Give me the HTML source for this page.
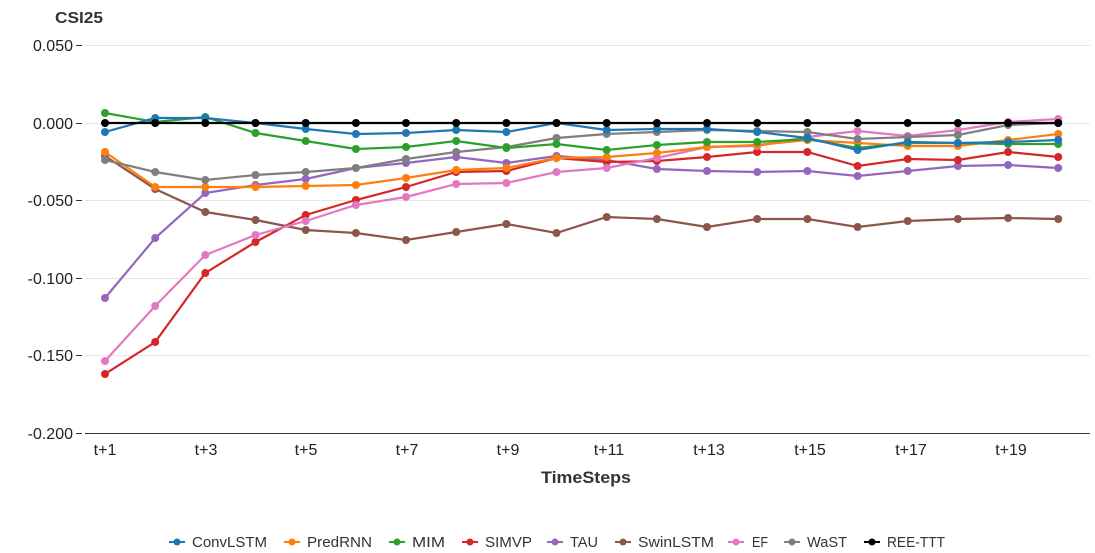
<!DOCTYPE html>
<html><head><meta charset="utf-8"><style>
html,body{margin:0;padding:0;background:#fff}
svg{display:block;font-family:"Liberation Sans",sans-serif}
</style></head><body>
<svg width="1095" height="553" viewBox="0 0 1095 553" xmlns="http://www.w3.org/2000/svg">
<text x="55" y="23" font-size="16" font-weight="bold" fill="#333" textLength="48" lengthAdjust="spacingAndGlyphs">CSI25</text>
<g stroke="#e6e6e6" stroke-width="1">
<line x1="85" y1="45.5" x2="1090" y2="45.5"/>
<line x1="85" y1="200.5" x2="1090" y2="200.5"/>
<line x1="85" y1="278.5" x2="1090" y2="278.5"/>
<line x1="85" y1="355.5" x2="1090" y2="355.5"/>
<line x1="85" y1="123.5" x2="1090" y2="123.5"/>
</g>
<line x1="85" y1="433.5" x2="1090" y2="433.5" stroke="#333" stroke-width="1"/>
<g stroke="#333"><line x1="76" y1="45.5" x2="82" y2="45.5"/><line x1="76" y1="123.5" x2="82" y2="123.5"/><line x1="76" y1="200.5" x2="82" y2="200.5"/><line x1="76" y1="278.5" x2="82" y2="278.5"/><line x1="76" y1="355.5" x2="82" y2="355.5"/><line x1="76" y1="433.5" x2="82" y2="433.5"/></g>
<g font-size="16" fill="#222" text-anchor="end">
<text x="73" y="51">0.050</text><text x="73" y="129">0.000</text><text x="73" y="206">-0.050</text><text x="73" y="284">-0.100</text><text x="73" y="361">-0.150</text><text x="73" y="439">-0.200</text>
</g>
<g font-size="16" fill="#222" text-anchor="middle">
<text x="105" y="455">t+1</text><text x="206" y="455">t+3</text><text x="306" y="455">t+5</text><text x="407" y="455">t+7</text><text x="508" y="455">t+9</text><text x="609" y="455">t+11</text><text x="709" y="455">t+13</text><text x="810" y="455">t+15</text><text x="911" y="455">t+17</text><text x="1011" y="455">t+19</text>
</g>
<text x="541" y="483" font-size="17" font-weight="bold" fill="#333" textLength="90" lengthAdjust="spacingAndGlyphs">TimeSteps</text>
<g id="series" fill="none" stroke-width="2.2"></g>
<g font-size="15" fill="#333">
<line x1="169" y1="542" x2="185" y2="542" stroke="#1f77b4" stroke-width="2"/><circle cx="177" cy="542" r="3.5" fill="#1f77b4"/><text x="192" y="547" textLength="75" lengthAdjust="spacingAndGlyphs">ConvLSTM</text>
<line x1="284" y1="542" x2="300" y2="542" stroke="#ff7f0e" stroke-width="2"/><circle cx="292" cy="542" r="3.5" fill="#ff7f0e"/><text x="307" y="547" textLength="65" lengthAdjust="spacingAndGlyphs">PredRNN</text>
<line x1="389" y1="542" x2="405" y2="542" stroke="#2ca02c" stroke-width="2"/><circle cx="397" cy="542" r="3.5" fill="#2ca02c"/><text x="412" y="547" textLength="33" lengthAdjust="spacingAndGlyphs">MIM</text>
<line x1="462" y1="542" x2="478" y2="542" stroke="#d62728" stroke-width="2"/><circle cx="470" cy="542" r="3.5" fill="#d62728"/><text x="485" y="547" textLength="47" lengthAdjust="spacingAndGlyphs">SIMVP</text>
<line x1="547" y1="542" x2="563" y2="542" stroke="#9467bd" stroke-width="2"/><circle cx="555" cy="542" r="3.5" fill="#9467bd"/><text x="570" y="547" textLength="28" lengthAdjust="spacingAndGlyphs">TAU</text>
<line x1="615" y1="542" x2="631" y2="542" stroke="#8c564b" stroke-width="2"/><circle cx="623" cy="542" r="3.5" fill="#8c564b"/><text x="638" y="547" textLength="76" lengthAdjust="spacingAndGlyphs">SwinLSTM</text>
<line x1="728" y1="542" x2="744" y2="542" stroke="#e377c2" stroke-width="2"/><circle cx="736" cy="542" r="3.5" fill="#e377c2"/><text x="752" y="547" textLength="16" lengthAdjust="spacingAndGlyphs">EF</text>
<line x1="784" y1="542" x2="800" y2="542" stroke="#7f7f7f" stroke-width="2"/><circle cx="792" cy="542" r="3.5" fill="#7f7f7f"/><text x="807" y="547" textLength="40" lengthAdjust="spacingAndGlyphs">WaST</text>
<line x1="864" y1="542" x2="880" y2="542" stroke="#000" stroke-width="2"/><circle cx="872" cy="542" r="3.5" fill="#000"/><text x="887" y="547" textLength="58" lengthAdjust="spacingAndGlyphs">REE-TTT</text>
</g>
</svg>
<script>
var S=[
["#8c564b",[156,189,212,220,230,233,240,232,224,233,217,219,227,219,219,227,221,219,218,219]],
["#9467bd",[298,238,193,185,179,168,163,157,163,156,160,169,171,172,171,176,171,166,165,168]],
["#d62728",[374,342,273,242,215,200,187,172,171,158,162,161,157,152,152,166,159,160,152,157]],
["#e377c2",[361,306,255,235,221,205,197,184,183,172,168,158,147,146,137,131,136,130,122,119]],
["#ff7f0e",[152,187,187,187,186,185,178,170,168,158,157,153,147,145,140,143,146,146,140,134]],
["#7f7f7f",[160,172,180,175,172,168,159,152,147,138,134,132,130,131,132,139,137,135,125,123]],
["#2ca02c",[113,122,117,133,141,149,147,141,148,144,150,145,142,142,139,148,143,143,144,144]],
["#1f77b4",[132,118,118,123,129,134,133,130,132,123,130,129,129,132,138,150,142,143,142,140]],
["#000000",[123,123,123,123,123,123,123,123,123,123,123,123,123,123,123,123,123,123,123,123]]
];
var g=document.getElementById("series"),h="";
S.forEach(function(s){var pts=s[1].map(function(y,i){return (105+i*50.17).toFixed(1)+","+y});
h+='<polyline points="'+pts.join(" ")+'" stroke="'+s[0]+'"/>';
s[1].forEach(function(y,i){h+='<circle cx="'+(105+i*50.17).toFixed(1)+'" cy="'+y+'" r="4" fill="'+s[0]+'" stroke="none"/>'});});
g.innerHTML=h;
</script>
</body></html>
